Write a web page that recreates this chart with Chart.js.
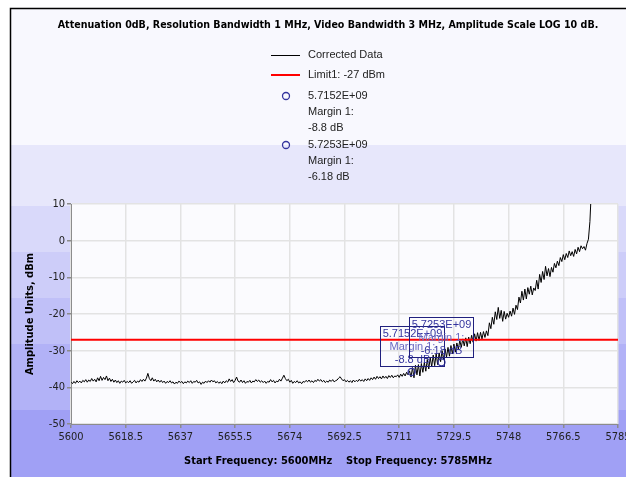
<!DOCTYPE html>
<html>
<head>
<meta charset="utf-8">
<title>Spectrum scan</title>
<script src="https://cdn.jsdelivr.net/npm/chart.js@4.4.0/dist/chart.umd.min.js"></script>
<style>
    html, body { margin: 0; padding: 0; background: #ffffff; }
    canvas { display: block; }
</style>
</head>
<body>
<canvas id="scanChart" width="626" height="477"></canvas>
<script>
// Sweep header / footer text
const chartTitle = 'Attenuation 0dB, Resolution Bandwidth 1 MHz, Video Bandwidth 3 MHz, Amplitude Scale LOG 10 dB.';
const footerText = 'Start Frequency: 5600MHz    Stop Frequency: 5785MHz';
const yAxisTitle = 'Amplitude Units, dBm';

// Axis ticks (MHz / dBm)
const freqTicks = [5600, 5618.5, 5637, 5655.5, 5674, 5692.5, 5711, 5729.5, 5748, 5766.5, 5785];
const ampTicks = [-50, -40, -30, -20, -10, 0, 10];

// Corrected trace, one reading every 0.5 MHz starting at 5600 MHz
const traceStart = 5600;
const traceStep = 0.5;
const correctedData = [
    // 5600 - 5609.5
    -38.6, -39.0, -38.4, -38.9, -38.2, -38.7, -38.3, -38.8, -38.1, -38.5, -37.9, -38.6, -38.0, -38.4, -37.6, -38.3, -37.8, -38.5, -37.4, -38.2,
    // 5610 - 5619.5
    -37.0, -38.1, -37.3, -37.9, -36.9, -38.2, -37.5, -38.4, -37.8, -38.6, -38.0, -38.7, -38.2, -38.9, -38.3, -38.6, -38.1, -38.8, -38.4, -38.7,
    // 5620 - 5629.5
    -38.2, -38.9, -38.5, -38.1, -38.8, -38.3, -38.6, -37.9, -38.4, -37.8, -38.3, -37.5, -36.2, -37.6, -38.2, -37.4, -38.3, -37.8, -38.5, -38.0,
    // 5630 - 5639.5
    -38.6, -38.1, -38.7, -38.3, -38.9, -38.4, -38.7, -38.2, -38.8, -38.5, -39.1, -38.6, -38.9, -38.3, -38.7, -38.4, -39.0, -38.5, -38.8, -38.3,
    // 5640 - 5649.5
    -38.7, -38.2, -38.9, -38.4, -38.6, -38.1, -38.8, -38.5, -39.2, -38.6, -38.9, -38.3, -38.7, -38.2, -38.6, -38.0, -38.5, -38.2, -38.8, -38.4,
    // 5650 - 5659.5
    -38.9, -38.5, -39.0, -38.3, -38.8, -38.2, -38.6, -37.7, -38.4, -37.9, -38.7, -38.1, -37.2, -38.3, -38.6, -38.0, -38.7, -38.2, -38.9, -38.4,
    // 5660 - 5669.5
    -38.6, -38.1, -38.8, -38.3, -38.5, -37.9, -38.4, -38.0, -38.6, -38.2, -38.7, -38.3, -38.9, -38.4, -38.6, -37.9, -38.5, -38.1, -38.8, -38.3,
    // 5670 - 5679.5
    -38.5, -37.8, -38.3, -37.5, -36.7, -37.6, -38.2, -37.8, -38.6, -38.1, -38.9, -38.4, -38.7, -38.2, -38.8, -38.5, -39.0, -38.4, -38.6, -38.1,
    // 5680 - 5689.5
    -38.5, -38.0, -38.6, -38.2, -38.7, -38.1, -38.4, -37.8, -38.3, -37.9, -38.5, -38.1, -38.7, -38.3, -38.6, -38.0, -38.4, -37.9, -38.5, -38.2,
    // 5690 - 5699.5
    -38.0, -37.5, -37.1, -37.7, -38.2, -37.9, -38.5, -38.1, -38.6, -38.2, -38.7, -38.0, -38.5, -38.1, -38.4, -37.8, -38.3, -37.9, -38.4, -37.7,
    // 5700 - 5709.5
    -38.2, -37.6, -38.1, -37.4, -37.9, -37.2, -37.8, -37.0, -37.6, -37.1, -37.7, -36.9, -37.5, -37.0, -37.6, -36.8, -37.3, -36.7, -37.4, -36.9,
    // 5710 - 5719.5
    -37.1, -36.6, -37.3, -36.4, -37.0, -36.2, -36.9, -35.9, -36.6, -35.5, -37.2, -34.6, -37.4, -34.0, -36.6, -33.8, -36.9, -33.5, -35.9, -33.2,
    // 5720 - 5729.5
    -35.6, -32.4, -35.0, -31.9, -34.4, -31.2, -34.1, -30.8, -33.8, -30.6, -33.0, -30.0, -32.4, -29.5, -31.8, -29.1, -31.5, -28.6, -30.9, -28.2,
    // 5730 - 5739.5
    -30.4, -27.9, -29.6, -27.2, -29.1, -26.8, -28.7, -26.5, -28.9, -26.3, -28.1, -25.8, -27.7, -25.4, -27.4, -25.1, -27.2, -25.0, -26.8, -24.8,
    // 5740 - 5749.5
    -26.4, -24.6, -25.9, -22.4, -24.0, -20.9, -22.8, -19.4, -21.5, -18.2, -21.2, -19.0, -22.0, -19.3, -21.4, -19.8, -20.9, -19.2, -20.6, -18.4,
    // 5750 - 5759.5
    -20.1, -17.6, -18.8, -15.4, -17.0, -13.8, -16.2, -13.2, -15.9, -12.8, -14.6, -12.4, -14.8, -12.9, -13.6, -10.8, -13.2, -9.2, -11.4, -8.4,
    // 5760 - 5769.5
    -10.6, -7.0, -9.6, -7.6, -9.8, -7.3, -8.6, -6.2, -7.4, -5.6, -6.8, -4.6, -5.7, -3.8, -5.2, -3.5, -4.6, -2.8, -4.1, -3.0,
    // 5770 - 5776
    -4.3, -2.4, -3.6, -1.8, -3.0, -1.4, -2.2, -1.6, -2.6, -0.8, 0.4, 5.2, 14.0
];

// Limit line
const limitLevel = -27;
const limitLabel = 'Limit1: -27 dBm';

// Margin markers (frequency in MHz, margin to Limit1 in dB)
const markerFreqs = [5715.2, 5725.3];
const markerMargins = [-8.8, -6.18];

const TEXT_FONT = '"Liberation Sans", Arial, sans-serif';
const BOLD_FONT = 'Tahoma, "DejaVu Sans Condensed", "DejaVu Sans", sans-serif';
const MARKER_BLUE = '#34349e';

function markerName(freq) {
    return (freq / 1000).toFixed(4) + 'E+09';
}

function marginText(margin) {
    return margin + ' dB';
}

// Backdrop: banded lavender panel with a black frame on the top/left edges
const backdropPlugin = {
    id: 'backdrop',
    beforeDraw(chart) {
        const { ctx, width, height, chartArea } = chart;
        const bands = [
            [8, '#f8f8fe'], [145, '#e7e7fb'], [206, '#d9d9fa'], [252, '#cdcdf9'],
            [298, '#c0c0f8'], [344, '#b2b2f7'], [410, '#a0a0f5']
        ];
        ctx.save();
        ctx.fillStyle = '#ffffff';
        ctx.fillRect(0, 0, width, height);
        bands.forEach(([y, color], i) => {
            const next = i + 1 < bands.length ? bands[i + 1][0] : height;
            ctx.fillStyle = color;
            ctx.fillRect(10, y, width - 10, next - y);
        });
        ctx.fillStyle = '#fbfbfe';
        ctx.fillRect(chartArea.left, chartArea.top,
            chartArea.right - chartArea.left, chartArea.bottom - chartArea.top);

        ctx.strokeStyle = '#000000';
        ctx.lineWidth = 1.5;
        ctx.beginPath();
        ctx.moveTo(10.5, height);
        ctx.lineTo(10.5, 8.5);
        ctx.lineTo(width, 8.5);
        ctx.stroke();
        ctx.restore();
    }
};

// Marker callout boxes drawn above each margin point
const calloutPlugin = {
    id: 'callouts',
    afterDatasetsDraw(chart) {
        const { ctx } = chart;
        const xs = chart.scales.x;
        const ys = chart.scales.y;
        ctx.save();
        ctx.font = '11px ' + TEXT_FONT;
        ctx.textAlign = 'center';
        ctx.textBaseline = 'middle';
        markerFreqs.forEach((f, i) => {
            const px = xs.getPixelForValue(f);
            const py = ys.getPixelForValue(limitLevel + markerMargins[i]);
            const w = 64, h = 40;
            const left = Math.round(px - w / 2) + 0.5;
            const top = Math.round(py - 5.5 - h) + 0.5;
            ctx.strokeStyle = '#20207e';
            ctx.lineWidth = 1;
            ctx.strokeRect(left, top, w, h);
            const lines = [markerName(f), 'Margin 1:', marginText(markerMargins[i])];
            const colors = [MARKER_BLUE, '#6a6ac2', MARKER_BLUE];
            lines.forEach((t, k) => {
                ctx.fillStyle = colors[k];
                ctx.fillText(t, left + w / 2, top + 7.5 + k * 13);
            });
        });
        ctx.restore();
    }
};

// Title, legend block and axis captions
const captionPlugin = {
    id: 'captions',
    afterDraw(chart) {
        const { ctx } = chart;
        ctx.save();
        ctx.textBaseline = 'middle';

        ctx.fillStyle = '#000000';
        ctx.textAlign = 'center';
        ctx.font = 'bold 10.6px ' + BOLD_FONT;
        ctx.fillText(chartTitle, 328, 25);
        ctx.font = 'bold 11px ' + BOLD_FONT;
        ctx.fillText(footerText, 338, 461);

        ctx.save();
        ctx.translate(30, 314);
        ctx.rotate(-Math.PI / 2);
        ctx.fillText(yAxisTitle, 0, 0);
        ctx.restore();

        // legend
        const trace = chart.data.datasets.find(d => d.id === 'trace');
        const limit = chart.data.datasets.find(d => d.id === 'limit');
        ctx.textAlign = 'left';
        ctx.font = '11px ' + TEXT_FONT;
        ctx.fillStyle = '#222222';

        ctx.strokeStyle = trace.borderColor;
        ctx.lineWidth = 1;
        ctx.beginPath();
        ctx.moveTo(271, 55.5);
        ctx.lineTo(300, 55.5);
        ctx.stroke();
        ctx.fillText(trace.label, 308, 55);

        ctx.strokeStyle = limit.borderColor;
        ctx.lineWidth = 2;
        ctx.beginPath();
        ctx.moveTo(271, 75);
        ctx.lineTo(300, 75);
        ctx.stroke();
        ctx.fillText(limit.label, 308, 75);

        markerFreqs.forEach((f, i) => {
            const y0 = 96 + i * 49;
            ctx.strokeStyle = MARKER_BLUE;
            ctx.lineWidth = 1.3;
            ctx.beginPath();
            ctx.arc(286, y0, 3.5, 0, Math.PI * 2);
            ctx.stroke();
            ctx.fillText(markerName(f), 308, y0);
            ctx.fillText('Margin 1:', 308, y0 + 16);
            ctx.fillText(marginText(markerMargins[i]), 308, y0 + 32);
        });
        ctx.restore();
    }
};

const tracePoints = correctedData.map((v, i) => ({ x: traceStart + i * traceStep, y: v }));
const limitPoints = [
    { x: freqTicks[0], y: limitLevel },
    { x: freqTicks[freqTicks.length - 1], y: limitLevel }
];
const markerPoints = markerFreqs.map((f, i) => ({ x: f, y: limitLevel + markerMargins[i] }));

const tickFont = { family: BOLD_FONT, size: 11 };

new Chart(document.getElementById('scanChart'), {
    type: 'line',
    data: {
        datasets: [
            {
                id: 'trace',
                label: 'Corrected Data',
                data: tracePoints,
                borderColor: '#000000',
                borderWidth: 1,
                pointRadius: 0,
                tension: 0,
                order: 2
            },
            {
                id: 'limit',
                label: limitLabel,
                data: limitPoints,
                borderColor: '#ff0000',
                borderWidth: 2,
                pointRadius: 0,
                order: 1
            },
            {
                id: 'markers',
                label: 'Margin markers',
                data: markerPoints,
                showLine: false,
                pointStyle: 'circle',
                pointRadius: 3.5,
                pointBorderWidth: 1.3,
                pointBorderColor: MARKER_BLUE,
                pointBackgroundColor: 'rgba(0,0,0,0)',
                order: 0
            }
        ]
    },
    options: {
        responsive: false,
        devicePixelRatio: 1,
        animation: false,
        events: [],
        layout: {
            padding: { left: 10, right: 8, top: 204, bottom: 0 }
        },
        plugins: {
            legend: { display: false },
            tooltip: { enabled: false },
            title: { display: false }
        },
        scales: {
            x: {
                type: 'linear',
                min: 5600,
                max: 5785,
                afterBuildTicks: s => { s.ticks = freqTicks.map(v => ({ value: v })); },
                afterFit: s => { s.height = 53; s.paddingLeft = 0; s.paddingRight = 0; },
                ticks: {
                    autoSkip: false,
                    maxRotation: 0,
                    padding: 3,
                    color: '#222222',
                    font: tickFont,
                    callback: v => String(v)
                },
                grid: {
                    color: '#e3e3e3',
                    lineWidth: 1.5,
                    tickLength: 4,
                    tickColor: '#8c8c8c'
                },
                border: { color: '#8c8c8c', width: 1 }
            },
            y: {
                type: 'linear',
                min: -50,
                max: 10,
                afterBuildTicks: s => { s.ticks = ampTicks.map(v => ({ value: v })); },
                afterFit: s => { s.width = 61; s.paddingTop = 0; s.paddingBottom = 0; },
                ticks: {
                    padding: 2,
                    color: '#222222',
                    font: tickFont,
                    callback: v => String(v)
                },
                grid: {
                    color: '#e3e3e3',
                    lineWidth: 1.5,
                    tickLength: 4,
                    tickColor: '#8c8c8c'
                },
                border: { color: '#8c8c8c', width: 1 }
            }
        }
    },
    plugins: [backdropPlugin, calloutPlugin, captionPlugin]
});
</script>
</body>
</html>
